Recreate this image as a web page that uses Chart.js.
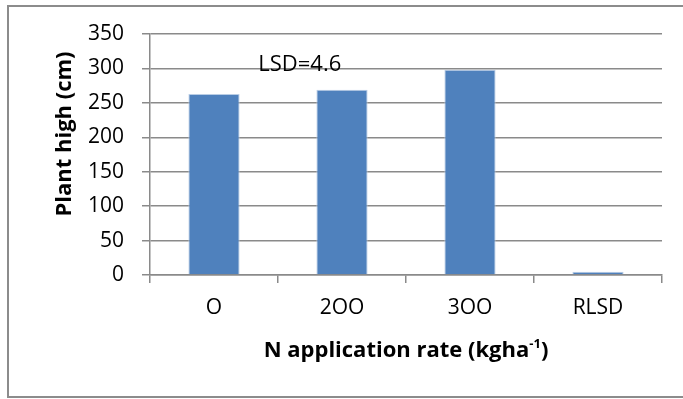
<!DOCTYPE html>
<html>
<head>
<meta charset="utf-8">
<script src="https://cdn.jsdelivr.net/npm/chart.js@4"></script>
<style>
  html, body { margin: 0; padding: 0; background: #fff; }
  #wrap { width: 683px; height: 399px; }
</style>
</head>
<body>
<div id="wrap"><canvas id="c" width="683" height="399"></canvas></div>
<script>
// Plant height by nitrogen application rate
const categories = ['O', '2OO', '3OO', 'RLSD'];
const plantHeight = [263, 269, 298, 4.6];
const yTicks = [0, 50, 100, 150, 200, 250, 300, 350];
const lsdValue = plantHeight[3];

const FONT = '"Open Sans", sans-serif';
const GRID = '#8a8a8a';

// Axis titles, the LSD note and the outer frame
const decorations = {
  id: 'decorations',
  beforeDraw(chart) {
    const ctx = chart.ctx;
    ctx.save();
    ctx.fillStyle = '#fff';
    ctx.fillRect(0, 0, chart.width, chart.height);
    ctx.strokeStyle = '#8c8c8c';
    ctx.lineWidth = 2;
    ctx.strokeRect(8, 6, chart.width + 20, chart.height - 8);
    ctx.restore();
  },
  afterDraw(chart) {
    const ctx = chart.ctx;
    const area = chart.chartArea;
    const xs = chart.scales.x, ys = chart.scales.y;
    ctx.save();
    ctx.fillStyle = '#000';

    // LSD note inside the plot
    ctx.font = '22px ' + FONT;
    ctx.textAlign = 'center';
    ctx.textBaseline = 'middle';
    ctx.fillText('LSD=' + lsdValue, xs.getPixelForValue(0.67), ys.getPixelForValue(305));

    // Y axis title
    ctx.font = 'bold 22px ' + FONT;
    ctx.translate(64, 134);
    ctx.rotate(-Math.PI / 2);
    ctx.fillText('Plant high (cm)', 0, 1);
    ctx.setTransform(1, 0, 0, 1, 0, 0);

    // X axis title with superscript
    const main = 'N application rate (kgha';
    const sup = '-1';
    const tail = ')';
    ctx.font = 'bold 22px ' + FONT;
    const wMain = ctx.measureText(main).width;
    const wTail = ctx.measureText(tail).width;
    ctx.font = 'bold 13px ' + FONT;
    const wSup = ctx.measureText(sup).width;
    const total = wMain + wSup + wTail;
    let x = (area.left + area.right) / 2 - total / 2;
    const y = 351;
    ctx.textAlign = 'left';
    ctx.font = 'bold 22px ' + FONT;
    ctx.fillText(main, x, y);
    x += wMain;
    ctx.font = 'bold 13px ' + FONT;
    ctx.fillText(sup, x, y - 7);
    x += wSup;
    ctx.font = 'bold 22px ' + FONT;
    ctx.fillText(tail, x, y);
    ctx.restore();
  }
};

new Chart(document.getElementById('c'), {
  type: 'bar',
  data: {
    labels: categories,
    datasets: [{
      data: plantHeight,
      backgroundColor: '#4f81bd',
      borderColor: '#b9cde5',
      borderWidth: 1,
      barPercentage: 1,
      categoryPercentage: 0.4
    }]
  },
  options: {
    responsive: false,
    animation: false,
    devicePixelRatio: 1,
    layout: { padding: { left: 0, right: 21, top: 34, bottom: 0 } },
    plugins: {
      legend: { display: false },
      tooltip: { enabled: false }
    },
    scales: {
      x: {
        grid: {
          drawOnChartArea: false,
          drawTicks: true,
          tickLength: 8,
          color: GRID,
          lineWidth: 1.5,
          offset: true
        },
        border: { color: GRID, width: 1.5 },
        ticks: {
          color: '#000',
          font: { family: FONT, size: 21 },
          padding: 12,
          maxRotation: 0
        },
        afterFit(scale) { scale.height = 124; }
      },
      y: {
        min: 0,
        max: 350,
        afterBuildTicks(scale) { scale.ticks = yTicks.map(v => ({ value: v })); },
        grid: {
          color: GRID,
          lineWidth: 1.5,
          tickLength: 8
        },
        border: { color: GRID, width: 1.5 },
        ticks: {
          color: '#000',
          font: { family: FONT, size: 21 },
          padding: 18
        },
        afterFit(scale) { scale.width = 150; }
      }
    }
  },
  plugins: [decorations]
});
</script>
</body>
</html>
